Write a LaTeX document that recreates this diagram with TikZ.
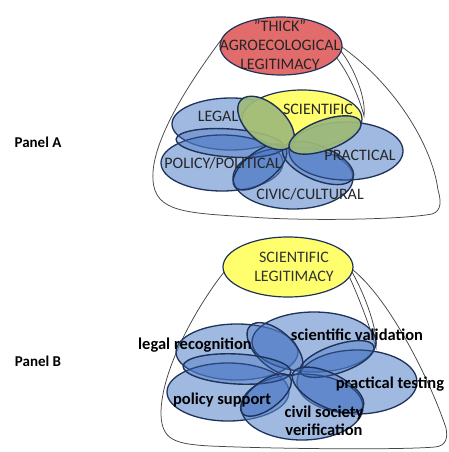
\documentclass[tikz,border=0pt]{standalone}
\usepackage{fontspec}
\setmainfont{Carlito}
\usetikzlibrary{shapes.geometric}
\definecolor{bluefill}{RGB}{90,135,205}
\definecolor{petalfill}{RGB}{60,105,185}
\definecolor{outline}{RGB}{30,50,90}
\definecolor{greenfill}{RGB}{158,186,122}
\definecolor{yellowfill}{RGB}{255,255,110}
\definecolor{redfill}{RGB}{226,108,108}
\definecolor{envline}{RGB}{70,70,70}
\tikzset{
  bigblue/.style={ellipse, draw=outline, line width=1.3pt, fill=bluefill, fill opacity=0.58, inner sep=0pt},
  petalblue/.style={ellipse, draw=outline, line width=1.4pt, fill=petalfill, fill opacity=0.35, inner sep=0pt},
  petalgreen/.style={ellipse, draw=outline, line width=1.4pt, fill=greenfill, fill opacity=0.92, inner sep=0pt},
  topell/.style={ellipse, draw=outline, line width=1.2pt, inner sep=0pt},
  env/.style={draw=envline, line width=0.75pt},
  capsA/.style={font=\fontsize{16}{19}\selectfont, text=black!85, inner sep=0pt},
  lowB/.style={font=\bfseries\fontsize{16.5}{18.5}\selectfont, text=black, inner sep=0pt, align=center},
  panel/.style={font=\bfseries\fontsize{15}{18}\selectfont, inner sep=0pt}
}
\begin{document}
\begin{tikzpicture}[x=1pt,y=-1pt]
\useasboundingbox (0,0) rectangle (449,452);
\fill[white] (0,0) rectangle (449,452);

% ---------------- Panel A ----------------
\node[panel] (panA) at (38,142) {Panel A};
% envelope
\draw[env] (221,40) .. controls (195,75) and (150,140) .. (153,180)
  .. controls (155,212) and (185,213) .. (250,217)
  .. controls (300,221) and (400,220) .. (432,214)
  .. controls (442,211) and (441,200) .. (438,190)
  .. controls (432,145) and (395,85) .. (342,47);
\draw[env] (340,50) .. controls (356,70) and (366,100) .. (364,116)
  .. controls (360,100) and (350,75) .. (336,57);
% top ellipse
\node[topell, fill=redfill, minimum width=122pt, minimum height=58pt] (thick) at (281,46) {};
\node[capsA, align=center] (thicktxt) at (280,45) {"THICK"\\AGROECOLOGICAL\\LEGITIMACY};
% big ellipses
\node[bigblue, minimum width=118pt, minimum height=52pt] (legalA) at (231,124) {};
\node[bigblue, minimum width=122pt, minimum height=56pt] (policyA) at (222,163) {};
\node[bigblue, minimum width=120pt, minimum height=62pt] (civicA) at (293,178) {};
\node[topell, fill=yellowfill, minimum width=120pt, minimum height=58pt] (sciA) at (302,119) {};
\node[bigblue, minimum width=114pt, minimum height=58pt] (practA) at (346,151) {};
% petals
\node[petalblue, minimum width=108pt, minimum height=28pt, rotate=-4] (pAl) at (230,143) {};
\node[petalblue, minimum width=64pt, minimum height=30pt, rotate=38] (pAll) at (260,167) {};
\node[petalblue, minimum width=76pt, minimum height=34pt, rotate=-23] (pAlr) at (318,163) {};
\node[petalgreen, minimum width=68pt, minimum height=38pt, rotate=-42] (pAul) at (266,123) {};
\node[petalgreen, minimum width=76pt, minimum height=30pt, rotate=20] (pAur) at (325,135) {};
% labels
\node[capsA] (tlegal) at (218,116) {LEGAL};
\node[capsA] (tsci) at (318,109) {SCIENTIFIC};
\node[capsA] (tprac) at (360,155) {PRACTICAL};
\node[capsA] (tpol) at (223,163) {POLICY/POLITICAL};
\node[capsA] (tciv) at (310,194) {CIVIC/CULTURAL};

% ---------------- Panel B ----------------
\node[panel] (panB) at (38,361) {Panel B};
\draw[env] (229,266) .. controls (200,300) and (160,370) .. (161,415)
  .. controls (162,440) and (175,444) .. (210,446)
  .. controls (280,449) and (400,450) .. (435,447)
  .. controls (446,446) and (448,438) .. (446,428)
  .. controls (430,380) and (390,300) .. (353,270);
\draw[env] (352,272) .. controls (365,295) and (378,330) .. (376,348)
  .. controls (371,330) and (360,300) .. (349,276);
\node[topell, fill=yellowfill, minimum width=130pt, minimum height=60pt] (sciB) at (288,267) {};
\node[capsA, align=center, text=black!80] (scibtxt) at (294,267) {SCIENTIFIC\\LEGITIMACY};
% big ellipses
\node[bigblue, minimum width=122pt, minimum height=56pt] (legalB) at (237,352) {};
\node[bigblue, minimum width=124pt, minimum height=60pt] (sciValB) at (314,342) {};
\node[bigblue, minimum width=120pt, minimum height=64pt] (practB) at (357,382) {};
\node[bigblue, minimum width=122pt, minimum height=58pt] (policyB) at (228,392) {};
\node[bigblue, minimum width=122pt, minimum height=66pt] (civilB) at (302,407) {};
% petals
\node[petalblue, minimum width=68pt, minimum height=36pt, rotate=-42] (pBul) at (275,349) {};
\node[petalblue, minimum width=78pt, minimum height=28pt, rotate=19] (pBur) at (337,359) {};
\node[petalblue, minimum width=108pt, minimum height=30pt, rotate=-3] (pBl) at (237,369) {};
\node[petalblue, minimum width=60pt, minimum height=28pt, rotate=37] (pBll) at (266,395) {};
\node[petalblue, minimum width=78pt, minimum height=34pt, rotate=-26] (pBlr) at (328,390) {};
% labels
\node[lowB] (tlegrec) at (195,345) {legal recognition};
\node[lowB] (tscival) at (357,335) {scientific validation};
\node[lowB] (tpractest) at (390,384) {practical testing};
\node[lowB] (tpolsup) at (222,400) {policy support};
\node[lowB] (tcivil) at (324,421) {civil society\\verification};
\end{tikzpicture}
\end{document}
